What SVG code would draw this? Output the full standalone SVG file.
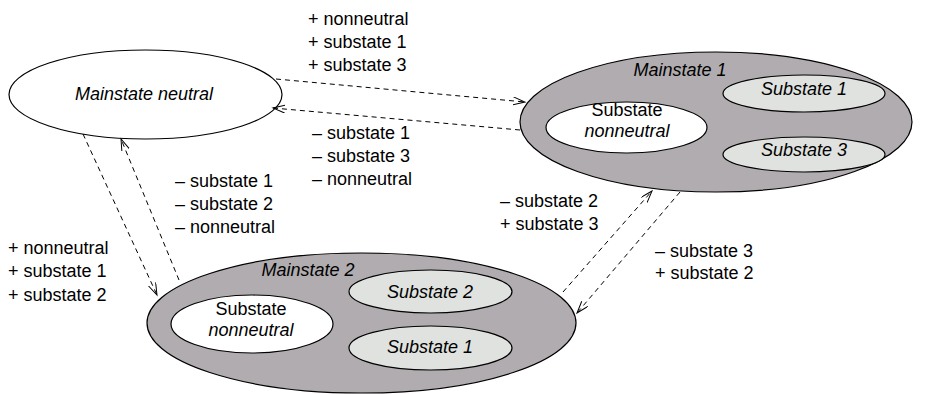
<svg xmlns="http://www.w3.org/2000/svg" width="936" height="394" viewBox="0 0 936 394">
  <defs>
    <marker id="open-arrow" markerUnits="userSpaceOnUse" markerWidth="14" markerHeight="10" refX="12" refY="4" orient="auto">
      <path d="M0,0 L12,4 L0,8" fill="none" stroke="#000" stroke-width="1"/>
    </marker>
    <style>
      .main { fill: #b0acaf; stroke: #000; stroke-width: 1.2; }
      .neutral { fill: #ffffff; stroke: #000; stroke-width: 1.2; }
      .sub { fill: #dfe2de; stroke: #000; stroke-width: 1.2; }
      .core { fill: #ffffff; stroke: #000; stroke-width: 1.2; }
      text { font-family: "Liberation Sans", Arial, sans-serif; font-size: 18px; fill: #000; }
      .c { text-anchor: middle; }
      .i { font-style: italic; }
      .link { fill: none; stroke: #000; stroke-width: 1; stroke-dasharray: 5 4; marker-end: url(#open-arrow); }
    </style>
  </defs>

  <rect width="936" height="394" fill="#ffffff"/>

  <!-- neutral main state -->
  <g id="mainstate-neutral">
    <ellipse class="neutral" cx="145.5" cy="94.5" rx="136.5" ry="44.5"/>
    <text class="c i" x="144" y="100">Mainstate neutral</text>
  </g>

  <!-- main state 1 with its substates -->
  <g id="mainstate-1">
    <ellipse class="main" cx="716" cy="122" rx="196" ry="70"/>
    <text class="c i" x="680" y="76">Mainstate 1</text>
  </g>
  <g id="m1-substate-nonneutral">
    <ellipse class="core" cx="626.5" cy="127.5" rx="80.5" ry="25.5"/>
    <text class="c" x="627" y="116">Substate</text>
    <text class="c i" x="627" y="137">nonneutral</text>
  </g>
  <g id="m1-substate-1">
    <ellipse class="sub" cx="804" cy="93.5" rx="81" ry="18.5"/>
    <text class="c i" x="804" y="95">Substate 1</text>
  </g>
  <g id="m1-substate-3">
    <ellipse class="sub" cx="804" cy="154.5" rx="81" ry="17.5"/>
    <text class="c i" x="804" y="156">Substate 3</text>
  </g>

  <!-- main state 2 with its substates -->
  <g id="mainstate-2">
    <ellipse class="main" cx="361.5" cy="323" rx="214.5" ry="70"/>
    <text class="c i" x="308" y="276">Mainstate 2</text>
  </g>
  <g id="m2-substate-nonneutral">
    <ellipse class="core" cx="252" cy="324" rx="81" ry="29"/>
    <text class="c" x="251" y="315">Substate</text>
    <text class="c i" x="251" y="336">nonneutral</text>
  </g>
  <g id="m2-substate-2">
    <ellipse class="sub" cx="430.5" cy="291.5" rx="81.5" ry="21.5"/>
    <text class="c i" x="430" y="298">Substate 2</text>
  </g>
  <g id="m2-substate-1">
    <ellipse class="sub" cx="430.5" cy="348" rx="81.5" ry="22"/>
    <text class="c i" x="430" y="353">Substate 1</text>
  </g>

  <!-- transitions -->
  <g id="connectors">
    <line class="link" x1="276" y1="79" x2="525" y2="102"/>
    <line class="link" x1="520" y1="130" x2="273" y2="108"/>
    <line class="link" x1="83" y1="134" x2="157" y2="295"/>
    <line class="link" x1="179" y1="280" x2="121" y2="139"/>
    <line class="link" x1="563" y1="292" x2="652" y2="191"/>
    <line class="link" x1="680" y1="192" x2="577" y2="313"/>
  </g>

  <!-- transition labels -->
  <g id="labels">
    <text x="308" y="25">+ nonneutral</text>
    <text x="308" y="48">+ substate 1</text>
    <text x="308" y="71">+ substate 3</text>

    <text x="312" y="139">– substate 1</text>
    <text x="312" y="162">– substate 3</text>
    <text x="312" y="185">– nonneutral</text>

    <text x="175" y="187">– substate 1</text>
    <text x="175" y="210">– substate 2</text>
    <text x="175" y="233">– nonneutral</text>

    <text x="8" y="254">+ nonneutral</text>
    <text x="8" y="277">+ substate 1</text>
    <text x="8" y="301">+ substate 2</text>

    <text x="500" y="207">– substate 2</text>
    <text x="500" y="230">+ substate 3</text>

    <text x="655" y="257">– substate 3</text>
    <text x="655" y="279">+ substate 2</text>
  </g>
</svg>
